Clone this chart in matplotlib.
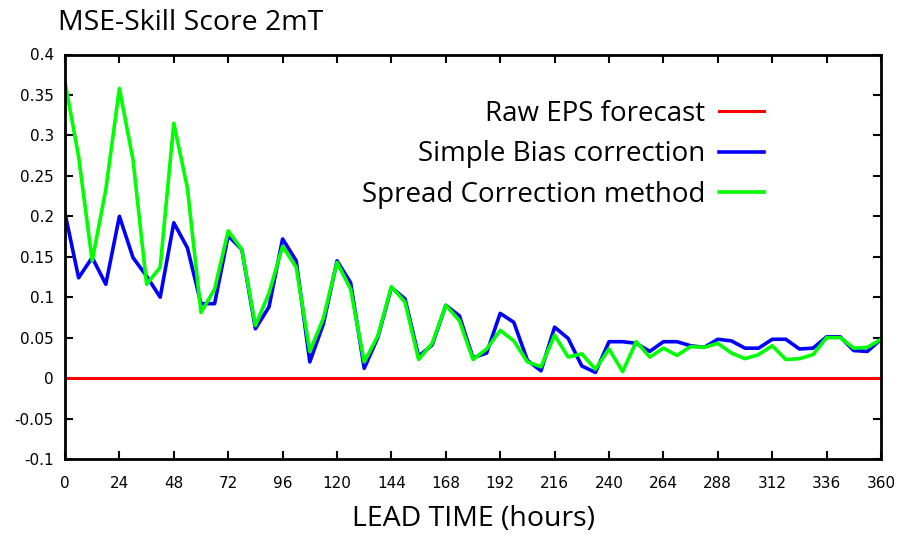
import numpy as np
import matplotlib.pyplot as plt

lead_time = np.arange(0, 361, 6)

raw_eps = [0.0] * len(lead_time)

simple_bias = [
    0.204, 0.124, 0.149, 0.116, 0.200, 0.149, 0.126, 0.100, 0.192, 0.161,
    0.092, 0.092, 0.176, 0.159, 0.061, 0.088, 0.172, 0.145, 0.020, 0.067,
    0.145, 0.118, 0.012, 0.050, 0.112, 0.098, 0.027, 0.041, 0.090, 0.077,
    0.025, 0.031, 0.080, 0.069, 0.022, 0.009, 0.063, 0.049, 0.015, 0.007,
    0.045, 0.045, 0.043, 0.033, 0.045, 0.045, 0.040, 0.038, 0.048, 0.046,
    0.037, 0.037, 0.048, 0.048, 0.036, 0.037, 0.051, 0.051, 0.034, 0.033,
    0.048,
]

spread_corr = [
    0.366, 0.274, 0.145, 0.233, 0.358, 0.270, 0.116, 0.137, 0.315, 0.235,
    0.081, 0.110, 0.182, 0.159, 0.065, 0.105, 0.163, 0.137, 0.033, 0.074,
    0.143, 0.110, 0.020, 0.052, 0.113, 0.094, 0.023, 0.043, 0.090, 0.071,
    0.023, 0.036, 0.059, 0.046, 0.020, 0.014, 0.053, 0.026, 0.030, 0.011,
    0.036, 0.008, 0.045, 0.026, 0.037, 0.028, 0.039, 0.038, 0.043, 0.031,
    0.024, 0.029, 0.040, 0.023, 0.024, 0.029, 0.050, 0.050, 0.037, 0.038,
    0.048,
]

labels = ['Raw EPS forecast', 'Simple Bias correction', 'Spread Correction method']

sans = ['Open Sans', 'DejaVu Sans']

fig = plt.figure(figsize=(9.01, 5.34), dpi=100)
ax = fig.add_axes([65 / 901, 75 / 534, 816 / 901, 404.5 / 534])

ax.plot(lead_time, raw_eps, color='#ff0000', lw=2.2, label=labels[0])
ax.plot(lead_time, simple_bias, color='#0000ff', lw=2.6, label=labels[1])
ax.plot(lead_time, spread_corr, color='#00ff00', lw=2.6, label=labels[2])

ax.set_xlim(0, 360)
ax.set_ylim(-0.1, 0.4)
ax.set_xticks(np.arange(0, 361, 24))
ax.set_yticks(np.arange(-0.1, 0.41, 0.05))
ax.set_yticklabels(['-0.1', '-0.05', '0', '0.05', '0.1', '0.15', '0.2',
                    '0.25', '0.3', '0.35', '0.4'])
ax.tick_params(direction='in', top=True, right=True, length=6, width=1.5,
               labelsize=11)
ax.tick_params(axis='x', pad=12)
ax.tick_params(axis='y', pad=8)
for sp in ax.spines.values():
    sp.set_linewidth(2)

ax.set_xlabel('LEAD TIME (hours)', fontsize=20.5, family=sans, labelpad=10)
fig.text(58 / 901, 1 - 23 / 534, 'MSE-Skill Score 2mT', fontsize=20.5,
         family=sans, va='center', ha='left')

leg = ax.legend(loc='upper right', bbox_to_anchor=(0.887, 0.95), frameon=False,
                markerfirst=False, handlelength=1.6, handletextpad=0.5,
                labelspacing=0.45, prop={'family': sans, 'size': 20})

fig.savefig('out.png', dpi=100)
